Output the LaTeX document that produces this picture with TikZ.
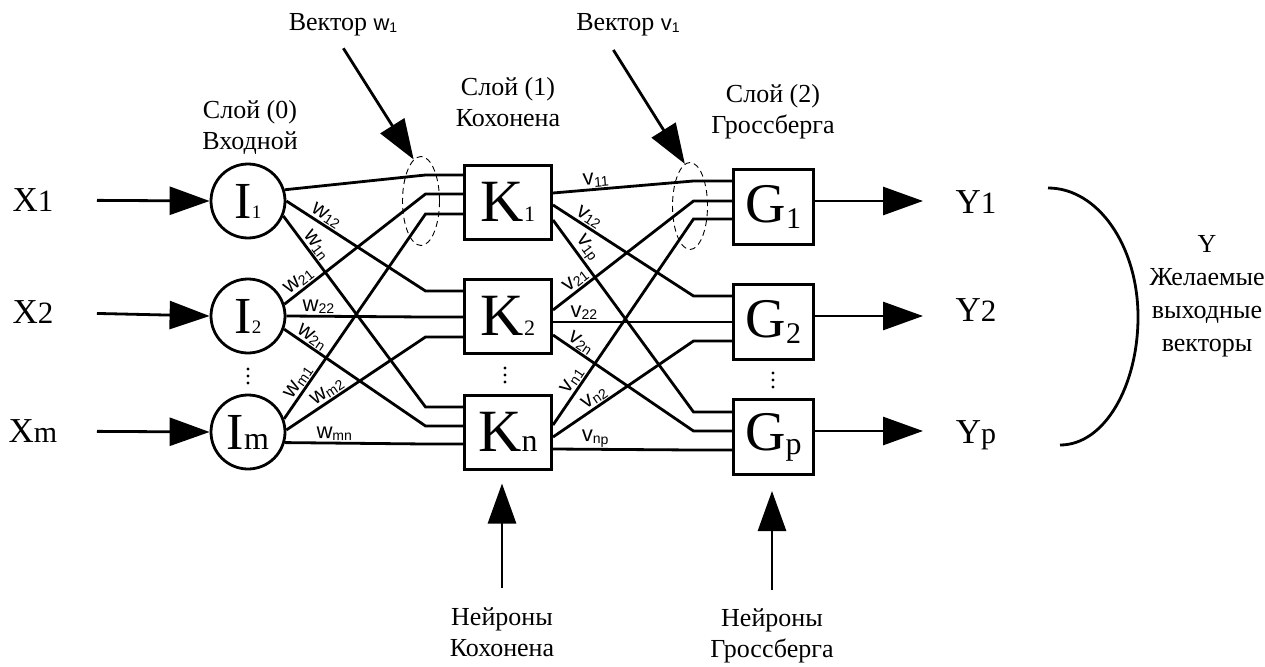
\documentclass[tikz,border=0pt]{standalone}
\usepackage{fontspec}
\setmainfont{Liberation Serif}
\newfontfamily\wfont{Liberation Sans}
\usetikzlibrary{arrows.meta,shapes.geometric,positioning}

% big letter with an index: letter, size, index, size, drop
\newcommand{\nrn}[5]{{\fontsize{#2}{#2}\selectfont #1}\raisebox{-#5pt}{\fontsize{#4}{#4}\selectfont #3}}
% weight label (w or v) with a small index
\newcommand{\wgt}[2]{{\wfont\fontsize{22}{22}\selectfont #1\raisebox{-2pt}{\fontsize{14}{14}\selectfont #2}}}

\begin{document}
\begin{tikzpicture}[x=1pt,y=-1pt,
  every node/.style={font=\fontsize{26}{31}\selectfont,align=center},
  link/.style={line width=2.8pt},
  bigarrow/.style={line width=2.8pt,-{Triangle[length=40pt,width=28pt]}},
  neuron/.style={circle,draw,line width=2.8pt,minimum size=74pt,inner sep=0pt},
  kbox/.style={rectangle,draw,line width=3pt,minimum width=87pt,minimum height=74pt,inner sep=0pt},
  gbox/.style={kbox,minimum width=80pt,minimum height=75pt},
  wlab/.style={sloped,above,inner sep=1pt},
  vecell/.style={ellipse,draw,line width=0.9pt,dash pattern=on 6pt off 4pt,
    minimum width=37pt,minimum height=89pt,inner sep=0pt}]
  \useasboundingbox (0,0) rectangle (1265,666);

  % inputs and outputs
  \node (X1) at (33,200) {\nrn{X}{35}{1}{31}{0}};
  \node (X2) at (33,312) {\nrn{X}{35}{2}{31}{0}};
  \node (Xm) at (33,431) {\nrn{X}{35}{m}{30}{0}};
  \node (Y1) at (976,202) {\nrn{Y}{35}{1}{31}{0}};
  \node (Y2) at (976,310) {\nrn{Y}{35}{2}{31}{0}};
  \node (Yp) at (976,435) {\nrn{Y}{35}{p}{30}{0}};

  % layer 0
  \node[neuron] (I1) at (248,201) {\nrn{I}{52}{1}{19}{0}};
  \node[neuron] (I2) at (248,316) {\nrn{I}{52}{2}{19}{0}};
  \node[neuron] (Im) at (248,432) {\nrn{I}{52}{m}{32}{0}};
  \coordinate (d0) at (248,376);

  % layer 1 (Kohonen)
  \node[kbox] (K1) at (508,202) {\nrn{K}{60}{1}{22}{0}};
  \node[kbox] (K2) at (508,316) {\nrn{K}{60}{2}{22}{0}};
  \node[kbox] (Kn) at (508,432) {\nrn{K}{60}{n}{32}{0}};
  \coordinate (d1) at (505,375);

  % layer 2 (Grossberg)
  \node[gbox] (G1) at (773.5,207) {\nrn{G}{56}{1}{30}{6}};
  \node[gbox] (G2) at (773.5,322) {\nrn{G}{56}{2}{30}{6}};
  \node[gbox] (Gp) at (773.5,437) {\nrn{G}{56}{p}{32}{4}};
  \coordinate (d2) at (773,380);

  % vertical dots between the neurons
  \foreach \d in {d0,d1,d2}
    \foreach \k in {-7,0,7}
      \fill (\d) ++(0,\k) circle (1.7pt);

  % captions
  \node (L0) at (250,127) {Слой (0)\\Входной};
  \node (L1) at (508,102) {Слой (1)\\Кохонена};
  \node (L2) at (773,112) {Слой (2)\\Гроссберга};
  \node (nk) at (502,632) {Нейроны\\Кохонена};
  \node (ng) at (772,636) {Нейроны\\Гроссберга};
  \node[font=\fontsize{26}{33}\selectfont] (Yv) at (1207,296) {Y\\Желаемые\\выходные\\векторы};
  \node (vw) at (343,25) {Вектор \wgt{w}{1}};
  \node (vv) at (628,25) {Вектор \wgt{v}{1}};

  % weight vectors
  \node[vecell] (ew) at (421,201) {};
  \node[vecell,minimum width=35pt,minimum height=87pt] (ev) at (690,206) {};

  % input arrows
  \foreach \x/\i in {X1/I1,X2/I2,Xm/Im}
    \draw[bigarrow,shorten <=64pt] (\x.center) -- (\i.west);

  % layer 0 -> layer 1
  \foreach \src/\ang/\dst/\dy/\ps/\lb in {
      I1/17/K1/27/0.2/{},
      I2/18/K1/8/0.14/{\wgt{w}{21}},
      Im/20/K1/-12/0.155/{\wgt{w}{m1}},
      I1/0/K2/25/0.25/{\wgt{w}{12}},
      I2/0/K2/-1/0.23/{\wgt{w}{22}},
      Im/3/K2/-21/0.33/{\wgt{w}{m2}},
      I1/-23/Kn/25/0.18/{\wgt{w}{1n}},
      I2/-20/Kn/6/0.16/{\wgt{w}{2n}},
      Im/-16/Kn/-12/0.35/{\wgt{w}{mn}}}
    \draw[link] (\src.\ang) -- node[wlab,pos=\ps] {\lb} ([xshift=-37.5,yshift=\dy]\dst.west) -- ([yshift=\dy]\dst.west);

  % layer 1 -> layer 2
  \foreach \src/\dyo/\dst/\dy/\ps/\lb in {
      K1/9/G1/26/0.31/{\wgt{v}{11}},
      K1/-3/G2/26/0.22/{\wgt{v}{12}},
      K1/-18/Gp/25/0.18/{\wgt{v}{1p}},
      K2/6/G1/6/0.2/{\wgt{v}{21}},
      K2/-6/G2/0/0.22/{\wgt{v}{22}},
      K2/-19/Gp/6/0.16/{\wgt{v}{2n}},
      Kn/7/G1/-12/0.19/{\wgt{v}{n1}},
      Kn/-5/G2/-19/0.33/{\wgt{v}{n2}},
      Kn/-17/Gp/-13/0.3/{\wgt{v}{np}}}
    \draw[link] ([yshift=\dyo]\src.east) -- node[wlab,pos=\ps] {\lb} ([xshift=-38.5,yshift=\dy]\dst.west) -- ([yshift=\dy]\dst.west);

  % output arrows
  \foreach \g/\y in {G1/Y1,G2/Y2,Gp/Yp}
    \draw[bigarrow,shorten >=53pt] ([yshift=6]\g.east) -- ([yshift=6]\g.east -| \y.center);

  % pointers
  \draw[bigarrow,shorten <=10pt] ([xshift=-5]vw.south) -- (ew.100);
  \draw[bigarrow,shorten <=12pt] ([xshift=-21]vv.south) -- (ev.97);
  \draw[bigarrow,shorten <=16pt,shorten >=13pt] (nk.north) -- (nk.north |- Kn.south);
  \draw[bigarrow,shorten <=15pt,shorten >=15pt] (ng.north) -- (ng.north |- Gp.south);

  % bracket over the outputs
  \draw[link] (1048,188) .. controls (1098,188) and (1138,246) .. (1138,317)
    .. controls (1138,385) and (1105,445) .. (1060,445);
\end{tikzpicture}
\end{document}
